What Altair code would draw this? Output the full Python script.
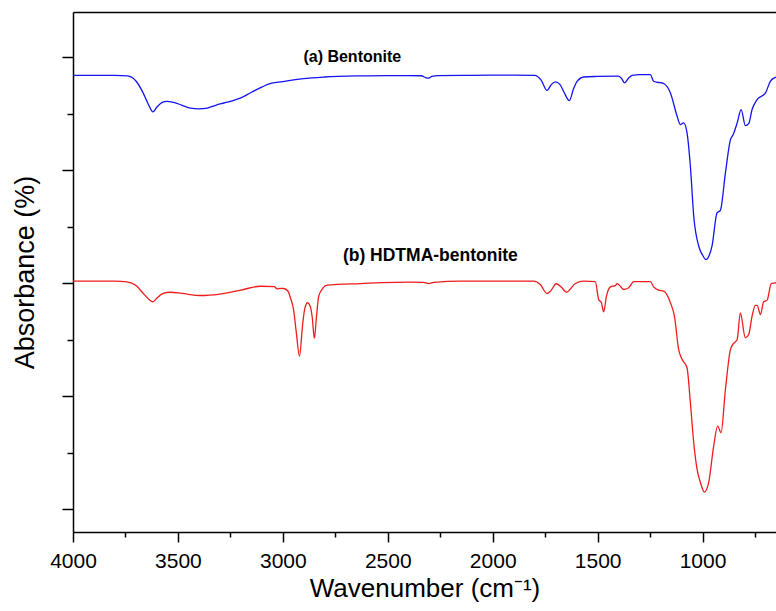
import altair as alt
import pandas as pd

# ---- data ----
blue_wn = [4000, 3800, 3740, 3700, 3670, 3640, 3619, 3600, 3575, 3552, 3520, 3480, 3440, 3401,
           3360, 3320, 3280, 3250, 3200, 3150, 3100, 3075, 3000, 2902, 2800, 2631, 2500, 2400,
           2340, 2320, 2305, 2290, 2260, 2100, 1900, 1800, 1770, 1741, 1720, 1701, 1680, 1660,
           1635, 1615, 1598, 1566, 1500, 1400, 1385, 1372, 1355, 1336, 1300, 1249, 1233, 1217,
           1200, 1185, 1153, 1121, 1106, 1090, 1074, 1058, 1042, 1018, 1000, 983, 970, 955, 931,
           915, 891, 867, 854, 835, 816, 796, 780, 764, 740, 700, 677, 653, 650]
blue_abs = [3.840, 3.840, 3.835, 3.790, 3.700, 3.580, 3.516, 3.560, 3.600, 3.610, 3.600, 3.575,
            3.550, 3.543, 3.550, 3.575, 3.595, 3.610, 3.640, 3.690, 3.735, 3.758, 3.785, 3.811,
            3.825, 3.835, 3.838, 3.838, 3.836, 3.820, 3.815, 3.830, 3.838, 3.840, 3.842, 3.840,
            3.800, 3.707, 3.760, 3.782, 3.760, 3.690, 3.616, 3.720, 3.786, 3.825, 3.830, 3.833,
            3.810, 3.773, 3.810, 3.840, 3.846, 3.846, 3.787, 3.778, 3.775, 3.767, 3.684, 3.477,
            3.404, 3.419, 3.331, 3.035, 2.593, 2.328, 2.250, 2.210, 2.240, 2.328, 2.623, 2.646,
            2.977, 3.271, 3.316, 3.419, 3.537, 3.395, 3.413, 3.537, 3.625, 3.684, 3.787, 3.822,
            3.825]

red_wn = [4000, 3800, 3743, 3700, 3660, 3630, 3619, 3600, 3570, 3536, 3480, 3393, 3300, 3200,
          3107, 3040, 3028, 3010, 2996, 2975, 2964, 2949, 2935, 2921, 2905, 2895, 2882, 2870,
          2860, 2850, 2840, 2829, 2810, 2789, 2631, 2392, 2330, 2305, 2280, 2154, 1900, 1805,
          1773, 1741, 1725, 1697, 1670, 1649, 1606, 1566, 1511, 1495, 1482, 1471, 1458, 1439,
          1415, 1407, 1390, 1376, 1352, 1328, 1249, 1233, 1209, 1185, 1153, 1134, 1114, 1097,
          1074, 1058, 1042, 1026, 1010, 991, 971, 947, 928, 912, 891, 867, 852, 835, 820, 796,
          780, 764, 748, 740, 724, 709, 692, 673, 653, 650]
red_abs = [2.019, 2.019, 2.012, 1.980, 1.900, 1.845, 1.836, 1.870, 1.910, 1.921, 1.910, 1.892,
           1.905, 1.940, 1.974, 1.970, 1.951, 1.955, 1.954, 1.930, 1.872, 1.768, 1.550, 1.355,
           1.650, 1.780, 1.828, 1.800, 1.700, 1.512, 1.700, 1.886, 1.955, 1.983, 1.998, 2.010,
           2.008, 1.998, 2.008, 2.019, 2.019, 2.019, 1.989, 1.910, 1.930, 1.996, 1.960, 1.921,
           1.998, 2.019, 2.014, 1.857, 1.828, 1.748, 1.886, 1.969, 1.980, 1.998, 1.970, 1.945,
           1.960, 2.014, 2.014, 1.969, 1.939, 1.930, 1.828, 1.709, 1.415, 1.326, 1.253, 0.943,
           0.590, 0.354, 0.236, 0.153, 0.236, 0.560, 0.737, 0.678, 1.061, 1.415, 1.468, 1.503,
           1.739, 1.518, 1.547, 1.709, 1.804, 1.804, 1.724, 1.836, 1.851, 1.998, 2.004, 2.005]

series_names = ["(a) Bentonite", "(b) HDTMA-bentonite"]
label_wn = [2669, 2297]
label_abs = [4.0, 2.24]

x_major = [4000, 3500, 3000, 2500, 2000, 1500, 1000]
x_minor = [3750, 3250, 2750, 2250, 1750, 1250, 750]
y_major = [0, 1, 2, 3, 4]
y_minor = [0.5, 1.5, 2.5, 3.5]

df = pd.concat([
    pd.DataFrame({"wn": blue_wn, "absb": blue_abs, "series": series_names[0]}),
    pd.DataFrame({"wn": red_wn, "absb": red_abs, "series": series_names[1]}),
], ignore_index=True)
labels_df = pd.DataFrame({"wn": label_wn, "absb": label_abs, "text": series_names})

FONT = "Liberation Sans"
xscale = alt.Scale(domain=[650, 4000], reverse=True, nice=False, zero=False)
yscale = alt.Scale(domain=[-0.2, 4.4], nice=False, zero=False)

lines = alt.Chart(df).mark_line(strokeWidth=1.3, interpolate="monotone", clip=True).encode(
    x=alt.X("wn:Q", scale=xscale, axis=alt.Axis(
        orient="bottom", values=x_major, format="d", title="Wavenumber (cm\u207b\u00b9)", grid=False,
        tickSize=10, tickWidth=1.5, tickColor="black", domainColor="black", domainWidth=1.5,
        labelFont=FONT, labelFontSize=21, labelColor="black", labelPadding=8,
        titleFont=FONT, titleFontSize=26, titleFontWeight="normal", titleColor="black",
        titlePadding=4, labelFlush=False)),
    y=alt.Y("absb:Q", scale=yscale, axis=alt.Axis(
        orient="left", values=y_major, labels=False, title="Absorbance (%)", grid=False,
        tickSize=11, tickWidth=1.5, tickColor="black", domainColor="black", domainWidth=1.5,
        titleFont=FONT, titleFontSize=27, titleFontWeight="normal", titleColor="black",
        titlePadding=22)),
    color=alt.Color("series:N", scale=alt.Scale(domain=series_names, range=["#1414ee", "#ee1c1c"]),
                    legend=None),
    detail="series:N",
)

minor = alt.Chart(df).mark_line(opacity=0).encode(
    x=alt.X("wn:Q", scale=xscale, axis=alt.Axis(
        orient="bottom", values=x_minor, labels=False, domain=False, grid=False,
        tickSize=5, tickWidth=1.5, tickColor="black", title=None)),
    y=alt.Y("absb:Q", scale=yscale, axis=alt.Axis(
        orient="left", values=y_minor, labels=False, domain=False, grid=False,
        tickSize=6, tickWidth=1.5, tickColor="black", title=None)),
    detail="series:N",
)

text_a = alt.Chart(labels_df).transform_filter(alt.datum.text == series_names[0]).mark_text(
    font=FONT, fontSize=16, fontWeight="bold", color="black", align="center", baseline="middle"
).encode(
    x=alt.X("wn:Q", scale=xscale, axis=alt.Axis(
        orient="top", labels=False, ticks=False, domain=True, grid=False,
        domainColor="black", domainWidth=1.5, title=None)),
    y=alt.Y("absb:Q", scale=yscale, axis=None),
    text="text:N",
)

text_b = alt.Chart(labels_df).transform_filter(alt.datum.text == series_names[1]).mark_text(
    font=FONT, fontSize=17.5, fontWeight="bold", color="black", align="center", baseline="middle"
).encode(
    x=alt.X("wn:Q", scale=xscale, axis=None),
    y=alt.Y("absb:Q", scale=yscale, axis=None),
    text="text:N",
)

chart = alt.layer(lines, minor, text_a, text_b).resolve_axis(x="independent", y="independent").properties(
    width=703, height=520,
    autosize=alt.AutoSizeParams(type="none"),
    padding={"left": 73, "top": 12, "right": 0, "bottom": 75},
).configure_view(stroke=None).configure(background="white")

chart.save("out.html", embed_options={"renderer": "svg", "actions": False})
